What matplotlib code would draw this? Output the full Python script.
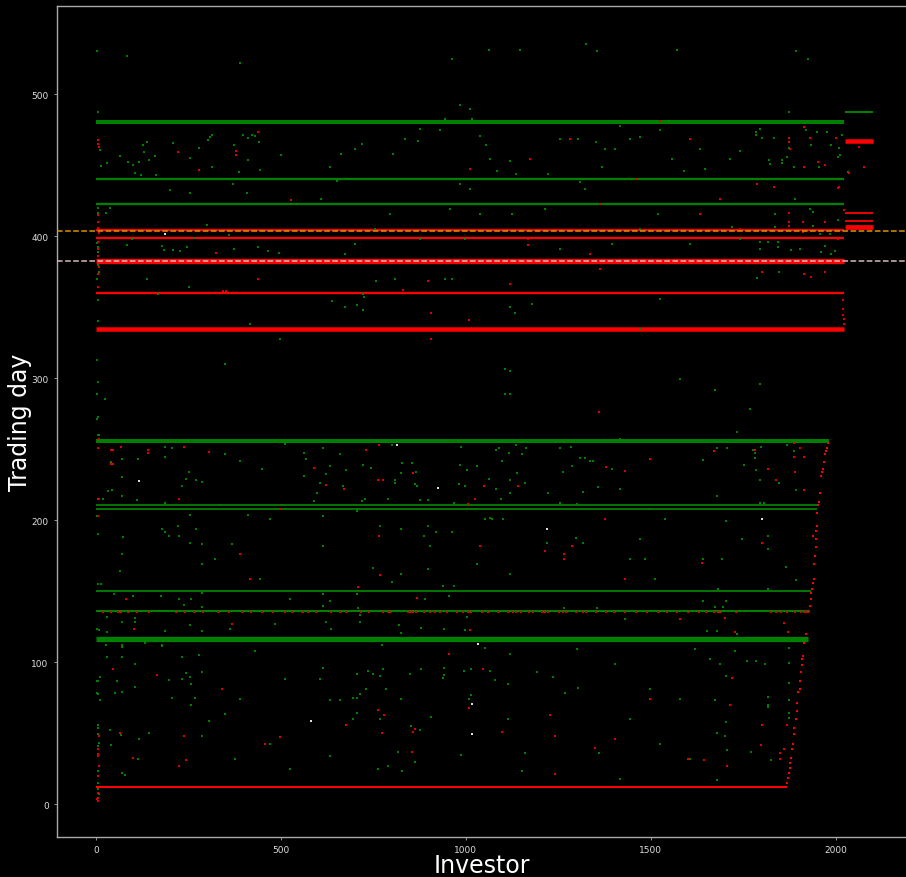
import matplotlib
matplotlib.use("Agg")
import matplotlib.pyplot as plt

# ---------------- data ----------------
# dense horizontal bands (trading day, first investor, last investor, colour)
band_day   = [480, 440, 422.3, 404.3, 399, 382.3, 360.2, 334.3,
              255.7, 210.5, 208, 150.1, 136.2, 116.4, 11.9,
              487.3, 467.2, 416.2, 410.4, 406.1]
band_start = [0, 0, 0, 0, 0, 0, 0, 0,
              0, 0, 0, 0, 0, 0, 0,
              2024, 2024, 2024, 2024, 2024]
band_end   = [2022, 2022, 2022, 2022, 2022, 2022, 2022, 2022,
              1982, 1952, 1950, 1934, 1930, 1925, 1868,
              2100, 2100, 2100, 2100, 2100]
band_color = ["green", "green", "green", "red", "red", "red", "red", "red",
              "green", "green", "green", "green", "green", "green", "red",
              "green", "red", "red", "red", "red"]
band_width_px = [4, 2.3, 2.3, 2.3, 2.3, 5.3, 2.3, 4.5,
                 4, 1.8, 1.8, 1.8, 2, 5.3, 2,
                 2, 4.5, 1.8, 1.8, 4.7]

# reference levels
orange_level = 403.5
white_level = 382.5

# scattered green trades (investor, day)
green_x = [3, 84, 389, 962, 1062, 1146, 1324, 1354, 1570, 1892, 1924, 984,
           7, 10, 13.5, 31.5, 65.8, 86.5, 100.9, 105.4, 118, 121.6, 128, 131.5, 137.8, 144.1,
           159.5, 162.2, 201.8, 208.1, 254, 254, 278.4, 302.7, 309, 313.5, 314.4, 370.3,
           374.8, 387.4, 399.1, 408.1, 411.7, 411.7, 423.4, 429.8, 440.6, 443.3, 500,
           27, 37.8, 137.8, 168.5, 252.3, 301.8, 359.5, 373.9, 438, 466.7, 496.4, 83.8,
           96.4, 178.4, 183.8, 209, 228.8, 246, 266.7,
           719, 700, 662, 632, 651, 608, 803, 835, 870, 876, 930, 943, 1011, 1016, 1038,
           1054, 1065, 1084, 984, 1011, 1119, 1135, 1222, 1254, 1303, 1308, 1351, 1376,
           1403, 1416, 1443, 1470, 1524, 1557, 1589, 1632, 1646, 1714, 1741, 1795, 1822,
           1368, 1322, 1214, 1395, 1519, 1632, 1741, 1795, 1903, 1957, 1930, 754, 876,
           997, 1038, 1124, 1254, 700, 673, 1470, 1605, 1719, 1835, 957, 795,
           1874, 1784, 1784, 1802, 1834, 1919, 1950, 1977, 2017, 1934, 1874, 1987, 2009,
           2012, 2007, 1868, 1820, 1854, 1854, 1886, 1955, 2032, 1890, 1939, 1938, 1971,
           2006, 1836, 1985, 1795, 1817, 1843, 1843, 1879, 1960, 1971, 1987, 1997, 1847, 1786,
           757, 808, 944, 963, 723, 725, 639, 673, 706, 723, 1120, 1134, 1178, 1120, 1120,
           562, 615, 660, 800, 988, 1083, 1090, 1117, 1136, 1153, 1163, 1254, 1285, 1308, 1322,
           569, 633, 676, 564, 607, 622, 599, 590, 669, 719, 727, 721, 745, 791, 808, 808,
           824, 827, 855, 866, 862, 868, 877, 898, 984, 1002, 983, 997, 969, 1029, 1063,
           1082, 1097, 1096, 1120, 1120, 1138, 1161, 1221, 1263, 1287, 1254, 1301, 1316,
           1335, 1343, 1358, 706, 615, 768, 824, 888, 899, 919, 963, 903, 1051, 1065, 1072,
           1101, 1029, 1120, 1219, 1299, 1316, 615, 750, 898, 824, 800, 938, 968, 615, 706,
           632, 615, 709, 890, 954, 1266, 1355, 715, 715, 622, 635, 820, 824, 879, 941, 997,
           1002, 773, 1052, 1120, 1301,
           615, 605, 706, 735, 750, 768, 777, 729, 714, 694, 706, 634, 660, 783, 826, 850,
           878, 941, 940, 938, 994, 1014, 1065, 1080, 1114, 1192, 1236, 1269, 1303, 1014,
           1008, 906, 851, 877, 768, 694, 706, 634, 816, 791, 764, 828, 864, 987, 1115,
           1159, 1153, 1359,
           8, 71, 114, 187, 206, 186, 72, 42, 243, 270, 252, 287, 233, 33, 45, 72, 20, 112,
           187, 254, 179, 187, 198, 223, 225, 271, 254, 287, 74, 72, 66, 287, 13, 48, 101,
           176, 225, 257, 238, 287, 287, 29, 72, 107, 107, 4, 31, 187, 254, 287, 27, 72,
           133, 178, 279, 233, 29,
           72, 29, 72, 107, 12, 4, 56, 11, 4, 51, 72, 107, 132, 178, 233, 278, 287, 244,
           254, 233, 256, 198, 205, 269, 258, 37, 68, 42, 116, 144, 115, 70, 79, 287, 306,
           1733, 1678, 1706, 1777, 1797, 1641, 1783, 1781, 1867, 1888, 1752, 1785, 1847,
           1796, 1678, 1893, 1795, 1806, 1703, 1748, 1817, 1818, 1692, 1640, 1866, 1893,
           1816, 1682, 1703, 1640, 1673, 1694, 1652, 1678, 1733, 1727, 1874, 1659, 1687,
           1760, 1784, 1810, 1874, 1874, 1703, 1874, 1818, 1818, 1817, 1673, 1703, 1874,
           1874, 1678, 1700, 1705, 1770, 1824, 1678,
           349, 389, 449, 511, 335, 411, 470, 368, 322, 443, 524, 362, 484, 430, 511, 389,
           349, 470, 376, 524, 497, 416, 349,
           1395, 1416, 1497, 1538, 1470, 1443, 1511, 1430, 1524, 1403, 1497, 1578, 1443,
           1524, 1605, 1416, 1470, 1524, 1578, 1416, 1484, 1619,
           1105, 1105, 24, 3, 3, 3, 1673, 1768, 1795,
           5, 6, 4, 7, 5, 6, 8, 4, 6, 5, 7, 5, 6, 4, 7, 5, 8, 6, 5, 7, 6, 5, 8, 6, 5, 7, 6, 8, 5]
green_y = [530, 527, 522, 525, 531, 531, 535, 530, 531, 530, 525, 492,
           487.3, 460.6, 449.1, 451.4, 456.1, 452.4, 450.3, 444.2, 452.4, 443.2, 464.1, 459.4, 466.4, 453.3,
           456.1, 443.2, 432.4, 465.3, 455, 430.3, 461.8, 467.4, 469.7, 471.1, 448.8, 436.4,
           464.1, 445.3, 471.1, 430.3, 453.3, 469, 471.1, 470.2, 466.4, 446.7, 457.1,
           416.5, 420, 369.8, 359.2, 364.1, 408, 401, 391.1, 392.3, 389.2, 388, 394,
           397.7, 392.8, 390.4, 390.4, 389.2, 392.3, 398.6,
           464.8, 461.3, 457.7, 448.6, 438.7, 426, 457.7, 468.3, 466.9, 475.4, 474.6, 482.4, 489.4, 482.4, 470.4,
           464.1, 454.2, 445.8, 436.6, 433.1, 452.8, 443.7, 443.7, 468.3, 468.3, 438, 466.2, 461.3,
           461.3, 477.5, 468.3, 469.7, 474.6, 454.2, 445.8, 461.3, 447.2, 454.2, 459.9, 475.4, 450.7,
           448.6, 433.1, 419, 394.4, 415.5, 415.5, 397.9, 390.8, 390.8, 401.4, 419, 404.9, 397.9,
           397.9, 415.5, 415.5, 390.8, 394.4, 387.3, 404.9, 394.4, 406.3, 415.5, 419, 415.5,
           487.6, 473.5, 471.2, 468.8, 468.8, 474.7, 473.5, 473.5, 471.2, 464.1, 461.8, 464.1, 461.8,
           457.1, 455.9, 455.9, 453.6, 453.6, 451.2, 448.9, 448.9, 445.4, 426.1, 416.7, 407.1, 410.1,
           411.6, 406.1, 401.2, 395.6, 395.6, 395.6, 392, 390.4, 388.6, 393.3, 387.4, 389.7, 374.9, 370.2,
           368.3, 369.7, 369.7, 369.7, 359.1, 356.8, 354.2, 350, 351.2, 348.3, 350, 346.2, 352.1, 305.4, 289.2,
           247.2, 250.5, 246.3, 253, 251.9, 249.5, 250.9, 247.2, 253, 246.3, 250.5, 250.5, 251.9, 243.9, 243.9,
           243, 238.3, 235.5, 231.3, 226.1, 232.2, 219.3, 213.4, 224, 213.7, 214.8, 239.2, 237.1, 214.8, 228.4, 226.1,
           233.1, 240.2, 240.2, 234.3, 225.2, 224, 214.1, 214.4, 239.2, 235.7, 225.2, 224, 212.3, 238.1, 228.9,
           221.9, 241.8, 214.8, 228.4, 219.3, 233.1, 226.1, 219.3, 234.3, 238.1, 212.3, 211.1, 220.2,
           241.4, 241.4, 223.3, 206.4, 203.1, 196.1, 193.7, 189, 196.1, 191.4, 191.4, 182.2, 200.7, 201.7, 200.7,
           200.7, 169.1, 162, 184.3, 187.8, 184.3, 182.2, 166.7, 165.5, 162.3, 156.2, 154, 154, 148, 148.2,
           143.2, 139.7, 137.9, 144.4, 147, 137.9, 137.9, 133.2, 128.2, 128.2, 123.3, 126.3, 120.5, 123.8, 123.3, 122.4,
           132.2, 112, 109.9, 106.1, 109.2,
           95.8, 88.3, 92, 94, 92, 90, 95.3, 81.2, 78, 74.9, 74.9, 73.2, 73.2, 81.2, 74.4, 92,
           95.3, 95.8, 91, 88.7, 94, 95.3, 94, 87.3, 85, 93.2, 89.7, 78.3, 82, 77,
           74.4, 61.7, 54.9, 52.3, 60.3, 60.3, 64, 34, 37.1, 27, 24.9, 23.2, 29.9, 34.9, 60.3,
           36, 23.2, 36,
           260, 243, 243, 251.9, 250.7, 244.8, 230.7, 241, 228.8, 228.1, 234.3, 227.2, 224.2, 220.6, 221.3, 217.1, 214.8, 214.3,
           212, 204, 193.6, 192, 189, 196, 189, 193.9, 184, 183.1, 188, 176, 164.3, 169, 154.9, 148.1, 146.9,
           146.9, 144.4, 144.4, 140.1, 149, 139, 131.9, 128.4, 131, 128.4, 123.2, 121.4, 122.3, 126, 122.3, 112, 111,
           113.4, 112, 104.9, 104, 104,
           112, 104, 104, 99, 89.9, 87, 87, 73.5, 78.2, 78.2, 79.1, 82.9, 113.4, 111.5, 104, 105.2, 93.2, 92.3,
           89.9, 88.3, 85, 87.3, 74.7, 74.7, 70, 52.4, 48.9, 41.8, 46.3, 50, 31.7, 22.3, 20.9, 48.1, 58.5,
           262.4, 250.7, 250.7, 249.5, 251.9, 242.5, 247.2, 243.9, 253, 248.4, 239, 235.7, 226,
           228.4, 217.1, 221.4, 212, 212, 199.5, 186.9, 189, 179.8, 172.8, 172.5, 166.9, 158.2,
           151.7, 151.4, 143.2, 143.2, 139, 139, 122.3, 122.3, 120.2, 108.2, 110.1, 102.4, 99.1,
           101.2, 101.2, 99.1, 99.3, 85.2, 90.2, 73.5, 75.8, 70, 68.8, 73.3, 58.2, 64.1,
           60.8, 50, 47.9, 38.3, 37.1, 31.2, 17.4,
           246.5, 241.5, 236, 253.5, 211, 204, 200.7, 183, 172.5, 158.5, 144.4, 123.2, 126.8, 107.7, 88, 74,
           63.4, 42.3, 31.7, 24.6, 327.5, 338, 310,
           236, 221.8, 207.7, 200.7, 186.6, 172.5, 158.5, 130.3, 116.2, 98.6, 81, 74, 59.9,
           42.3, 31.7, 17.6, 334.5, 355.6, 299.3, 257, 172.5, 109.2,
           306.3, 288.7, 285, 313, 289, 271, 292, 278, 296,
           420, 416.5, 395, 392, 389, 380, 375, 370, 355, 340, 297, 260, 215, 203, 190, 155,
           123, 87, 78, 55.6, 54, 49.8, 43.4, 41.1, 23.5, 15.3, 10.6, 7.1, 273]

# scattered red trades (investor, day)
red_x = [7, 6, 8, 5, 7, 6, 8, 5, 7, 6, 8, 5, 7, 8, 6, 8, 7, 8, 6, 5, 7, 8, 6, 5, 7, 4, 5,
         223, 278, 380, 380, 438, 527, 324, 437, 343, 352,
         1011, 1173, 1281, 1362, 1459, 1524, 1632, 1741, 1168, 1168, 1335, 1605, 1686, 1786, 1876,
         1913, 1874, 1874, 1930, 2000, 1952, 1971, 1913, 1834, 2008, 2035, 2064, 2077, 1874,
         1874, 1912, 1971, 2023, 1874, 1912, 2006, 1801, 1913, 1971, 1934,
         2020, 2021, 2022, 2022, 2020, 1971, 2007,
         897, 1120, 831, 905, 1010, 905, 1360, 766, 730,
         590, 622, 671, 762, 777, 858, 1050, 1142, 1024, 1006, 766, 1038, 1215, 1266, 1266,
         1288, 769, 709, 869, 1011, 955,
         955, 1047, 762, 778, 677, 774, 863, 857, 855, 1010, 1099, 1227, 1240, 1350, 1240,
         42, 47, 69, 141, 141, 42, 47, 239, 306, 225, 82, 103,
         47, 165, 65, 237, 101, 243, 225,
         1671, 1783, 1818, 1839, 1887, 1903, 1888, 1913, 1891, 1914, 1802, 1639, 1700, 1727,
         1860, 1870, 1719, 1714, 1802, 1869, 1797, 1644, 1705, 1849, 1849, 1859,
         497, 416, 341, 457, 497, 368, 389,
         1376, 1430, 1578, 1497, 1403, 1600, 1362, 1378, 1430, 1497]
red_y = [468, 465, 463, 415, 410, 406, 402, 396, 391, 386, 378, 373, 364, 257.5, 251, 215,
         203, 48.1, 38.8, 35.2, 34, 27, 20, 8.2, 4.7, 3.5, 2,
         459.4, 446.3, 460.1, 457.3, 473.5, 425.4, 388.3, 370, 361.3, 361.3,
         447.2, 454.2, 468.3, 422.5, 440.1, 481, 415.5, 404.9, 397.9, 394, 387.3, 468.3, 426, 436.6, 461.3,
         477, 468.8, 466.5, 468.8, 468.8, 452.4, 450.1, 448.9, 434.3, 434.3, 444.2, 463, 448.9, 416,
         410.1, 410.1, 410.1, 418.4, 406.9, 402.6, 397.9, 374.5, 373.3, 374.5, 371,
         348.6, 344.4, 341.5, 338, 355, 450, 434,
         368.3, 366, 362.4, 346.2, 341.3, 327.7, 276.3, 253, 249.3,
         237.1, 224.9, 221.9, 228.4, 228.4, 233.1, 224.2, 224.2, 214.8, 211.3, 189, 182.2, 178.2, 176.1, 172.6,
         182.2, 161.1, 153.1, 144.9, 122.4, 106.1,
         106, 95.3, 66.2, 62.9, 56.1, 50, 53.3, 51.2, 37.1, 67.5, 51.2, 62.9, 48.4, 39.9, 21.1,
         249.5, 249.5, 251.9, 249.5, 247.2, 239.4, 239.4, 251.9, 248.1, 214.8, 144.8, 123.5,
         95.3, 91.1, 50, 48.1, 32.9, 31.2, 27,
         248.4, 249.5, 235.9, 228.4, 254.2, 250.5, 244.8, 244.8, 234.3, 221.4, 184.3, 170.2, 131, 121.1,
         127.3, 121.1, 88.8, 70, 55.9, 55.9, 42.1, 31.2, 27, 36.2, 31.7, 38.8,
         207.7, 158.5, 81, 42.3, 47.2, 126.8, 176,
         200.7, 158.5, 130.3, 74, 45.8, 31.7, 376.8, 237.3, 234.5, 243]

# red trades trailing up the right edge
trail_x = [1868.5, 1871.2, 1873.9, 1875.7, 1877.5, 1880.2, 1882, 1883.8, 1886.5, 1888.3,
           1891.9, 1894.6, 1896.4, 1899.1, 1902.7, 1904.5, 1907.2, 1909, 1909.9, 1911.7,
           1913.5, 1918.9, 1929.7, 1932.4, 1934.2, 1936.9, 1938.7, 1941.4, 1941.4, 1944.1,
           1946, 1947.8, 1938.7, 1947.8, 1949.6, 1949.6, 1951.4, 1954.1, 1956.8, 1959.5,
           1963, 1965.8, 1968.5, 1971.2, 1973, 1976.6, 1979.3]
trail_y = [15.3, 18.8, 22.3, 25.9, 28.9, 32.9, 38.8, 42.3, 49.8, 54, 59.9, 65.8, 71.6, 79.1,
           81, 86.9, 93.2, 98.1, 102.1, 104.5, 113.9, 120.2, 139.7, 144.4, 149.1, 151.9,
           155.6, 158.5, 169, 174.9, 180.8, 186.6, 189, 192.5, 196, 205, 210.6, 213.1, 219,
           230.8, 234.3, 235.9, 241.3, 246.5, 248.4, 250.7, 254.2]

# red trades sitting along day 135.5
row_x = [18, 42, 60, 68, 87, 112, 144, 218, 240, 265, 290, 330, 360, 395, 420, 450, 480, 510,
         530, 556, 560, 574, 595, 637, 660, 676, 718, 739, 777, 790, 796, 844, 849, 858, 865,
         887, 903, 916, 930, 948, 975, 993, 1006, 1015, 1045, 1060, 1087, 1114, 1128, 1137,
         1148, 1170, 1182, 1206, 1215, 1223, 1252, 1263, 1272, 1297, 1317, 1324, 1351, 1380,
         1400, 1430, 1460, 1490, 1520, 1545, 1570, 1600, 1630, 1650, 1670, 1683, 1688, 1730,
         1824, 1838, 1853, 1867, 1889, 1907, 1914, 1919, 1925]
row_day = 135.5

# pale/white trades
white_x = [116, 581, 924, 1219, 1800, 1016, 1016, 1032, 186, 813]
white_y = [227.5, 59, 222.5, 193.7, 200.7, 70.4, 49.3, 112.7, 401.4, 253]

x_ticks = [0, 500, 1000, 1500, 2000]
y_ticks = [0, 100, 200, 300, 400, 500]

# ---------------- plot ----------------
W, H, DPI = 906, 878, 100
fig = plt.figure(figsize=(W / DPI, H / DPI), dpi=DPI, facecolor="black")
ax = fig.add_axes([57 / W, 40 / H, (W - 57) / W, (H - 7 - 40) / H])
ax.set_facecolor("black")

px2pt = 72.0 / DPI
for d, s, e, c, w in zip(band_day, band_start, band_end, band_color, band_width_px):
    ax.hlines(d, s, e, colors=c, linewidth=w * px2pt, zorder=2)

ms = 2.6
ax.scatter(green_x, green_y, s=ms, marker="s", c="green", linewidths=0, zorder=3)
ax.scatter(red_x, red_y, s=ms, marker="s", c="#dd0000", linewidths=0, zorder=3)
ax.scatter(trail_x, trail_y, s=ms + 1, marker="s", c="red", linewidths=0, zorder=3)
ax.scatter(row_x, [row_day] * len(row_x), s=ms, marker="s", c="#dd0000", linewidths=0, zorder=3)
ax.scatter(white_x, white_y, s=ms + 1, marker="s", c="#dddddd", linewidths=0, zorder=4)

ax.axhline(orange_level, color="#e09000", linestyle="--", linewidth=1.1, zorder=5)
ax.axhline(white_level, color="#d8b8b8", linestyle="--", linewidth=1.1, zorder=5)

ax.set_xlim(-105, 2190)
ax.set_ylim(-23, 562)
ax.set_xticks(x_ticks)
ax.set_yticks(y_ticks)
ax.tick_params(colors="#aaaaaa", labelcolor="#dddddd", labelsize=6.5, length=2.5, width=0.6)

for side in ("left", "bottom", "top"):
    ax.spines[side].set_color("#aaaaaa")
    ax.spines[side].set_linewidth(1.0)
ax.spines["right"].set_visible(False)

ax.set_xlabel("Investor", color="white", fontsize=17)
ax.set_ylabel("Trading day", color="white", fontsize=17)
ax.xaxis.set_label_coords(0.5, -0.0195)
ax.yaxis.set_label_coords(-0.029, 0.5)

fig.savefig("out.png", dpi=DPI, facecolor="black")
